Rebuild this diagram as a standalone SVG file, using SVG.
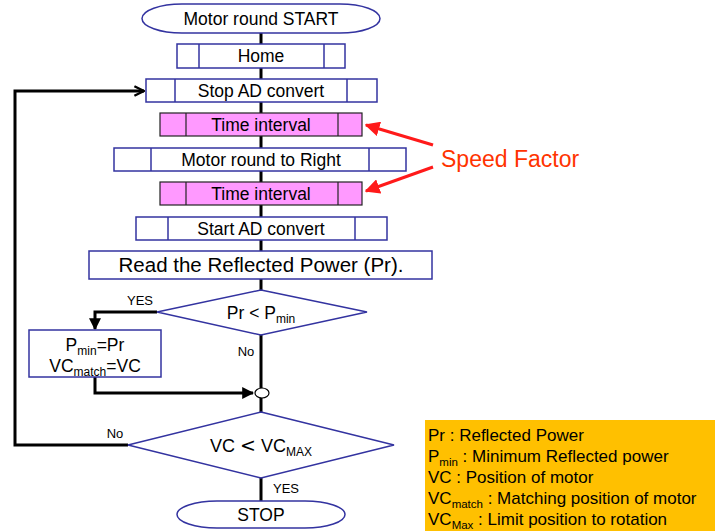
<svg xmlns="http://www.w3.org/2000/svg" width="724" height="531" viewBox="0 0 724 531">
<defs>
<marker id="ah" viewBox="0 0 10 10" refX="9" refY="5" markerWidth="4" markerHeight="4" orient="auto" markerUnits="strokeWidth"><path d="M0,0 L10,5 L0,10 z" fill="#000"/></marker>
<marker id="ao" viewBox="0 0 10 10" refX="9" refY="5" markerWidth="4" markerHeight="4" orient="auto" markerUnits="strokeWidth"><path d="M1,1 L9,5 L1,9" fill="none" stroke="#000" stroke-width="2"/></marker>
<marker id="ar" viewBox="0 0 10 10" refX="9" refY="5" markerWidth="5" markerHeight="5" orient="auto" markerUnits="strokeWidth"><path d="M0,0 L10,5 L0,10 z" fill="#FF1A1A"/></marker>
<style>
text{font-family:"Liberation Sans",Arial,sans-serif;fill:#000}
.b{fill:#fff;stroke:#3333A0;stroke-width:1.5}
.p{fill:#FF99FF;stroke:#222;stroke-width:1.2}
.l{stroke:#3333A0;stroke-width:1.5}
.lp{stroke:#222;stroke-width:1.2}
.c{fill:none;stroke:#000;stroke-width:3}
.t{font-size:17.5px;text-anchor:middle}
.s{font-size:13px}
.red{fill:none;stroke:#FF1A1A;stroke-width:3}
.lg{font-size:17px}
</style>
</defs>
<g id="connectors">
<line class="c" x1="261" y1="33" x2="261" y2="501"/>
<polyline class="c" points="128,445 15,445 15,91 144,91" marker-end="url(#ao)"/>
<polyline class="c" points="157,312 95,312 95,329" marker-end="url(#ah)"/>
<polyline class="c" points="95,377 95,393 253,393" marker-end="url(#ah)"/>
<line class="red" x1="433" y1="145" x2="366" y2="125" marker-end="url(#ar)"/>
<line class="red" x1="433" y1="167" x2="366" y2="191" marker-end="url(#ar)"/>
<text class="s" x="140" y="305" text-anchor="middle">YES</text>
<text class="s" x="246" y="356" text-anchor="middle">No</text>
<text class="s" x="115" y="438" text-anchor="middle">No</text>
<text class="s" x="286" y="493" text-anchor="middle">YES</text>
</g>
<g id="start">
<rect class="b" x="142" y="4" width="238" height="29" rx="40" ry="14.5"/>
<text class="t" x="261" y="25">Motor round START</text>
</g>
<g id="home">
<rect class="b" x="177" y="44" width="168" height="24"/>
<line class="l" x1="199" y1="44" x2="199" y2="68"/><line class="l" x1="324" y1="44" x2="324" y2="68"/>
<text class="t" x="261" y="62">Home</text>
</g>
<g id="stopad">
<rect class="b" x="146" y="79" width="231" height="23"/>
<line class="l" x1="175" y1="79" x2="175" y2="102"/><line class="l" x1="347" y1="79" x2="347" y2="102"/>
<text class="t" x="261" y="97">Stop AD convert</text>
</g>
<g id="time1">
<rect class="p" x="160" y="113" width="202" height="23"/>
<line class="lp" x1="186" y1="113" x2="186" y2="136"/><line class="lp" x1="338" y1="113" x2="338" y2="136"/>
<text class="t" x="261" y="131">Time interval</text>
</g>
<g id="motorright">
<rect class="b" x="114" y="148" width="292" height="23"/>
<line class="l" x1="151" y1="148" x2="151" y2="171"/><line class="l" x1="369" y1="148" x2="369" y2="171"/>
<text class="t" x="261" y="166">Motor round to Right</text>
</g>
<g id="time2">
<rect class="p" x="160" y="182" width="202" height="23"/>
<line class="lp" x1="186" y1="182" x2="186" y2="205"/><line class="lp" x1="338" y1="182" x2="338" y2="205"/>
<text class="t" x="261" y="200">Time interval</text>
</g>
<g id="startad">
<rect class="b" x="136" y="217" width="251" height="23"/>
<line class="l" x1="168" y1="217" x2="168" y2="240"/><line class="l" x1="355" y1="217" x2="355" y2="240"/>
<text class="t" x="261" y="235">Start AD convert</text>
</g>
<g id="read">
<rect class="b" x="89" y="251" width="343" height="28"/>
<text x="261" y="272" font-size="20.5" text-anchor="middle">Read the Reflected Power (Pr).</text>
</g>
<g id="dec1">
<polygon class="b" points="261,290 367,312 261,335 157,312"/>
<text class="t" x="261" y="319">Pr &lt; P<tspan font-size="12" dy="4">min</tspan></text>
</g>
<g id="update">
<rect class="b" x="29" y="330" width="132" height="47"/>
<text class="t" x="95" y="351">P<tspan font-size="12" dy="4">min</tspan><tspan dy="-4">=Pr</tspan></text>
<text class="t" x="95" y="372">VC<tspan font-size="12" dy="4">match</tspan><tspan dy="-4">=VC</tspan></text>
</g>
<g id="join">
<ellipse cx="262" cy="393" rx="7" ry="5" fill="#fff" stroke="#000" stroke-width="1.2"/>
</g>
<g id="dec2">
<polygon class="b" points="261,412 394,445 261,478 128,445"/>
<text x="261" y="452" font-size="18" text-anchor="middle">VC <tspan font-family="DejaVu Sans" font-size="19">&lt;</tspan> VC<tspan font-size="12" dy="4">MAX</tspan></text>
</g>
<g id="stop">
<rect class="b" x="177" y="501" width="168" height="27" rx="40" ry="13.5"/>
<text class="t" x="261" y="521">STOP</text>
</g>
<g id="speed">
<text x="441" y="167" font-size="23" style="fill:#FF3300">Speed Factor</text>
</g>
<g id="legend">
<rect x="425" y="420" width="290" height="111" fill="#FFC000"/>
<text class="lg" x="428" y="441">Pr : Reflected Power</text>
<text class="lg" x="428" y="462">P<tspan font-size="11.5" dy="4">min</tspan><tspan dy="-4"> : Minimum Reflected power</tspan></text>
<text class="lg" x="428" y="483">VC : Position of motor</text>
<text class="lg" x="428" y="504">VC<tspan font-size="11.5" dy="4">match</tspan><tspan dy="-4"> : Matching position of motor</tspan></text>
<text class="lg" x="428" y="525">VC<tspan font-size="11.5" dy="4">Max</tspan><tspan dy="-4"> : Limit position to rotation</tspan></text>
</g>
</svg>
